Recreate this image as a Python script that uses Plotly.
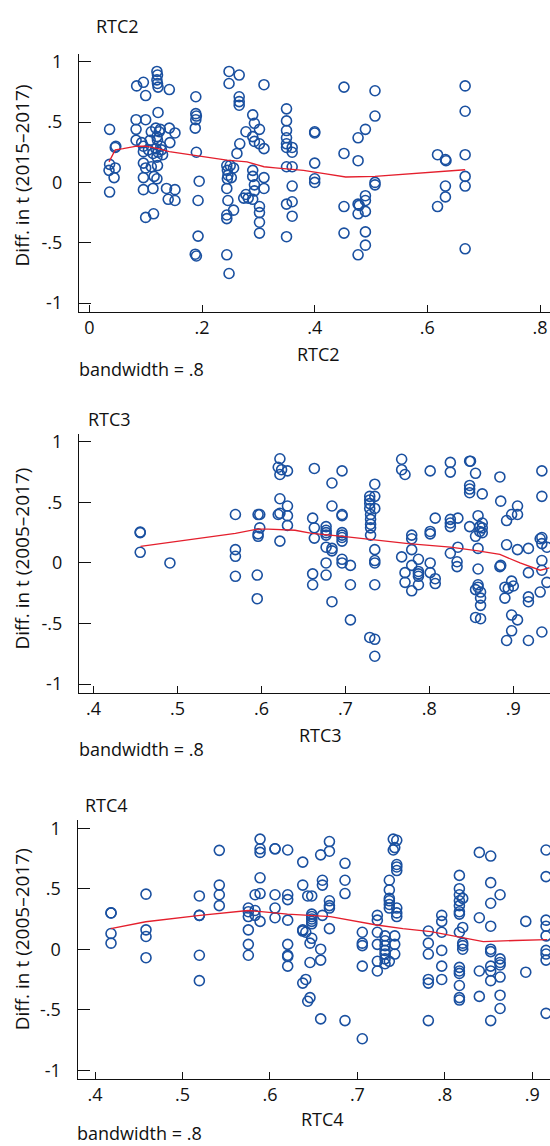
import plotly.graph_objects as go

# ---------------- data ----------------
# Panel 1: RTC2 vs Diff. in t (2015-2017)
rtc2_x = [0.036, 0.036, 0.035, 0.036, 0.046, 0.047, 0.046, 0.044,
          0.084, 0.096, 0.100, 0.083, 0.083, 0.083, 0.100, 0.093, 0.096, 0.096, 0.096, 0.100, 0.096, 0.096, 0.100, 0.114, 0.113, 0.115, 0.120,
          0.120, 0.121, 0.120, 0.121, 0.122, 0.122, 0.118, 0.124, 0.120, 0.121, 0.118, 0.122, 0.120, 0.121, 0.126, 0.127, 0.113, 0.110, 0.110,
          0.105, 0.108, 0.128, 0.130,
          0.142, 0.142, 0.152, 0.143, 0.137, 0.152, 0.140, 0.152,
          0.189, 0.189, 0.190, 0.189, 0.188, 0.190, 0.195, 0.193, 0.193, 0.188, 0.190,
          0.248, 0.248, 0.266, 0.266, 0.266, 0.266, 0.244, 0.245, 0.246, 0.245, 0.244, 0.246, 0.244, 0.244, 0.244, 0.248, 0.256, 0.256, 0.262, 0.250, 0.252,
          0.290, 0.293, 0.278, 0.290, 0.293, 0.302, 0.302, 0.310, 0.310, 0.267, 0.274, 0.290, 0.290, 0.293, 0.293, 0.290, 0.302, 0.302, 0.302, 0.302, 0.310, 0.310, 0.278, 0.282,
          0.350, 0.350, 0.350, 0.350, 0.350, 0.350, 0.360, 0.360, 0.350, 0.360, 0.360, 0.350, 0.360, 0.360, 0.350,
          0.400, 0.400, 0.400, 0.400, 0.400,
          0.452, 0.452, 0.452, 0.452,
          0.507, 0.507, 0.490, 0.477, 0.477, 0.507, 0.507, 0.477, 0.479, 0.490, 0.490, 0.477, 0.490, 0.490, 0.490, 0.477,
          0.618, 0.632, 0.633, 0.632, 0.632, 0.618,
          0.667, 0.667, 0.667, 0.667, 0.667, 0.667]
rtc2_y = [0.44, 0.15, 0.10, -0.08, 0.29, 0.30, 0.12, 0.04,
          0.80, 0.83, 0.72, 0.52, 0.44, 0.35, 0.52, 0.33, 0.30, 0.255, 0.16, 0.12, 0.04, -0.06, -0.29, -0.26, -0.05, 0.05, 0.03,
          0.92, 0.89, 0.85, 0.82, 0.79, 0.58, 0.45, 0.42, 0.38, 0.35, 0.28, 0.25, 0.21, 0.14, 0.44, 0.30, 0.24, 0.42, 0.13,
          0.27, 0.35, 0.27, 0.23,
          0.77, 0.45, 0.41, 0.33, -0.05, -0.06, -0.14, -0.15,
          0.71, 0.57, 0.55, 0.52, 0.45, 0.25, 0.01, -0.15, -0.445, -0.595, -0.61,
          0.92, 0.82, 0.89, 0.71, 0.67, 0.64, 0.14, 0.10, 0.06, 0.03, -0.05, -0.15, -0.27, -0.30, -0.60, -0.755, -0.23, 0.12, 0.24, 0.14, 0.04,
          0.56, 0.49, 0.42, 0.38, 0.34, 0.44, 0.32, 0.28, 0.81, 0.32, -0.13, 0.10, 0.05, -0.02, -0.07, -0.14, -0.20, -0.25, -0.33, -0.42, 0.04, -0.05, -0.10, -0.13,
          0.61, 0.51, 0.43, 0.37, 0.32, 0.29, 0.29, 0.25, 0.13, 0.13, -0.03, -0.18, -0.16, -0.28, -0.45,
          0.41, 0.42, 0.16, 0.03, 0.00,
          0.79, 0.24, -0.20, -0.42,
          0.76, 0.55, 0.44, 0.37, 0.18, -0.02, 0.00, -0.18, -0.19, -0.11, -0.15, -0.26, -0.24, -0.41, -0.52, -0.60,
          0.23, 0.19, 0.18, -0.03, -0.12, -0.20,
          0.80, 0.59, 0.23, 0.05, -0.03, -0.55]
rtc2_fit_x = [0.035, 0.046, 0.060, 0.084, 0.100, 0.122, 0.142, 0.170, 0.195, 0.220, 0.244, 0.280, 0.310, 0.330, 0.380, 0.420, 0.455, 0.507, 0.570, 0.632, 0.667]
rtc2_fit_y = [0.17, 0.27, 0.28, 0.30, 0.30, 0.28, 0.255, 0.235, 0.215, 0.20, 0.185, 0.17, 0.13, 0.12, 0.10, 0.07, 0.045, 0.05, 0.07, 0.095, 0.105]

# Panel 2: RTC3 vs Diff. in t (2005-2017)
rtc3_x = [0.4556, 0.4556, 0.4556, 0.491, 0.569, 0.569, 0.569, 0.569,
          0.596, 0.598, 0.598, 0.596, 0.596, 0.595, 0.595,
          0.622, 0.620, 0.624, 0.622, 0.631, 0.622, 0.631, 0.620, 0.622, 0.631, 0.631, 0.622,
          0.663, 0.661, 0.663, 0.663, 0.661, 0.661, 0.677, 0.677, 0.677, 0.677, 0.677, 0.677, 0.677,
          0.684, 0.684, 0.684, 0.684, 0.684, 0.696, 0.696, 0.696, 0.696, 0.696, 0.696, 0.696, 0.696, 0.696, 0.706, 0.706, 0.706,
          0.729, 0.729, 0.729, 0.729, 0.730, 0.730, 0.730, 0.730, 0.730, 0.735, 0.735, 0.735, 0.735, 0.735, 0.735, 0.735, 0.729, 0.735, 0.735,
          0.767, 0.767, 0.771, 0.767, 0.779, 0.779, 0.779, 0.771, 0.771, 0.779, 0.779, 0.787, 0.787, 0.787, 0.787, 0.787,
          0.801, 0.801, 0.801, 0.801, 0.801, 0.807, 0.807, 0.807,
          0.825, 0.825, 0.825, 0.825, 0.825, 0.825, 0.834, 0.834, 0.833, 0.833,
          0.848, 0.849, 0.848, 0.848, 0.848, 0.855, 0.848, 0.855, 0.858, 0.860, 0.860, 0.858, 0.858, 0.855, 0.858, 0.858, 0.861, 0.861, 0.861, 0.855, 0.861,
          0.863, 0.863, 0.863, 0.863,
          0.884, 0.885, 0.884, 0.885,
          0.892, 0.898, 0.905, 0.905, 0.892, 0.905, 0.890, 0.894, 0.898, 0.900, 0.890, 0.898, 0.905, 0.898, 0.892,
          0.918, 0.918, 0.918, 0.918, 0.918,
          0.934, 0.934, 0.932, 0.934, 0.934, 0.934, 0.934, 0.932, 0.934, 0.940, 0.940]
rtc3_y = [0.25, 0.255, 0.088, 0.00, 0.40, 0.11, 0.055, -0.11,
          0.40, 0.40, 0.29, 0.24, 0.22, -0.10, -0.295,
          0.86, 0.79, 0.77, 0.73, 0.76, 0.53, 0.47, 0.40, 0.41, 0.39, 0.31, 0.18,
          0.78, 0.37, 0.29, 0.205, -0.09, -0.18, 0.30, 0.27, 0.25, 0.23, 0.13, 0.00, -0.10,
          0.66, 0.47, 0.12, 0.10, -0.32, 0.76, 0.40, 0.39, 0.25, 0.23, 0.21, 0.18, 0.03, 0.00, -0.02, -0.18, -0.47,
          0.55, 0.52, 0.49, 0.45, 0.40, 0.36, 0.32, 0.29, 0.23, 0.65, 0.55, 0.45, 0.11, 0.02, 0.00, -0.18, -0.615, -0.63, -0.77,
          0.856, 0.77, 0.73, 0.05, 0.23, 0.20, 0.11, -0.08, -0.16, -0.02, -0.23, 0.03, -0.07, -0.09, -0.11, -0.18,
          0.76, 0.26, 0.24, 0.00, -0.08, 0.37, -0.13, -0.17,
          0.83, 0.75, 0.36, 0.33, 0.30, 0.08, 0.37, 0.13, 0.01, -0.03,
          0.84, 0.84, 0.64, 0.61, 0.58, 0.74, 0.30, 0.22, 0.39, 0.30, 0.26, 0.12, -0.05, -0.22, -0.18, -0.20, -0.24, -0.29, -0.35, -0.45, -0.46,
          0.57, 0.33, 0.29, 0.25,
          0.71, 0.51, -0.03, -0.02,
          0.35, 0.40, 0.47, 0.40, 0.15, 0.11, -0.20, -0.21, -0.15, -0.19, -0.29, -0.43, -0.47, -0.56, -0.64,
          0.12, -0.08, -0.28, -0.32, -0.64,
          0.76, 0.55, 0.20, 0.21, 0.16, 0.02, -0.06, -0.24, -0.57, 0.13, -0.16]
rtc3_fit_x = [0.456, 0.500, 0.569, 0.596, 0.608, 0.640, 0.660, 0.697, 0.735, 0.775, 0.825, 0.858, 0.884, 0.908, 0.932, 0.943]
rtc3_fit_y = [0.137, 0.18, 0.245, 0.28, 0.28, 0.27, 0.245, 0.22, 0.19, 0.16, 0.13, 0.10, 0.07, 0.00, -0.06, -0.04]

# Panel 3: RTC4 vs Diff. in t (2005-2017)
rtc4_x = [0.4183, 0.4183, 0.4183, 0.4183,
          0.4583, 0.4583, 0.4583, 0.4583,
          0.5193, 0.5193, 0.5193, 0.5193, 0.5193,
          0.5421, 0.5421, 0.5421, 0.5421,
          0.5753, 0.5753, 0.5753, 0.5753, 0.5753, 0.5753,
          0.583, 0.583, 0.583,
          0.5887, 0.5887, 0.5887, 0.5887, 0.5887, 0.5887,
          0.6058, 0.6058, 0.6058, 0.6058, 0.6058,
          0.6203, 0.6203, 0.6203, 0.6203, 0.6203, 0.6203, 0.6203, 0.6203,
          0.6375, 0.6375, 0.6375, 0.6375, 0.6375,
          0.6432, 0.6432,
          0.6478, 0.6478, 0.6478, 0.6478, 0.6478, 0.6478, 0.6478,
          0.6458, 0.6458, 0.6458, 0.6410, 0.6410,
          0.658, 0.658, 0.658, 0.658, 0.660, 0.660, 0.660,
          0.668, 0.668, 0.668, 0.668, 0.668, 0.668,
          0.6858, 0.6858, 0.6858, 0.6858,
          0.7056, 0.7056, 0.7056, 0.7056, 0.7056,
          0.7228, 0.7228, 0.7228, 0.7228, 0.7228, 0.7228,
          0.7316, 0.7316, 0.7316, 0.7316, 0.7316, 0.7316, 0.7316,
          0.7365, 0.7365, 0.7365, 0.7365, 0.7365, 0.7365, 0.7365,
          0.741, 0.741, 0.7427, 0.7427, 0.7427, 0.7427,
          0.745, 0.745, 0.745, 0.745, 0.745, 0.745, 0.745,
          0.7811, 0.7811, 0.7811, 0.7811, 0.7811, 0.7811,
          0.7964, 0.7964, 0.7964, 0.7964, 0.7964, 0.7964,
          0.8166, 0.8166, 0.8166, 0.8166, 0.8166, 0.8166, 0.8166, 0.8166, 0.8166, 0.8166, 0.8166, 0.8166, 0.8166, 0.8166,
          0.8204, 0.8204, 0.8204, 0.8204, 0.8204,
          0.8394, 0.8394, 0.8394, 0.8394,
          0.8524, 0.8524, 0.8524, 0.8524, 0.8524, 0.8524, 0.8524, 0.8524, 0.8524, 0.8524,
          0.8631, 0.8631, 0.8631, 0.8631, 0.8631, 0.8631, 0.8631,
          0.8925, 0.8925,
          0.9157, 0.9157, 0.9157, 0.9157, 0.9157, 0.9157, 0.9157, 0.9157, 0.9157]
rtc4_y = [0.30, 0.30, 0.13, 0.05,
          0.455, 0.16, 0.105, -0.07,
          0.44, 0.28, 0.28, -0.05, -0.26,
          0.817, 0.53, 0.45, 0.36,
          0.34, 0.31, 0.27, 0.16, 0.04, -0.05,
          0.45, 0.32, 0.28,
          0.91, 0.83, 0.80, 0.59, 0.46, 0.23,
          0.83, 0.83, 0.45, 0.34, 0.26,
          0.82, 0.45, 0.41, 0.24, 0.04, -0.05, -0.06, -0.14,
          0.72, 0.53, 0.16, 0.15, -0.28,
          -0.43, 0.44,
          0.44, 0.29, 0.27, 0.25, 0.23, 0.21, 0.09,
          0.05, -0.11, -0.40, 0.14, -0.25,
          0.78, 0.00, -0.09, -0.576, 0.57, 0.53, 0.28,
          0.89, 0.81, 0.40, 0.36, 0.34, 0.17,
          0.71, 0.57, 0.46, -0.59,
          0.14, 0.05, 0.03, -0.14, -0.74,
          0.28, 0.24, 0.14, 0.04, -0.10, -0.18,
          0.11, 0.07, 0.03, -0.01, -0.04, -0.08, -0.12,
          0.57, 0.49, 0.42, 0.40, 0.37, 0.34, -0.10,
          0.91, 0.82, 0.84, 0.11, 0.04, -0.04,
          0.90, 0.70, 0.68, 0.65, 0.34, 0.30, 0.27,
          0.15, 0.05, -0.04, -0.25, -0.28, -0.59,
          0.28, 0.23, 0.14, -0.01, -0.14, -0.25,
          0.61, 0.50, 0.45, 0.40, 0.36, 0.31, 0.29, 0.14, -0.15, -0.18, -0.20, -0.30, -0.40, -0.42,
          0.42, 0.18, 0.05, 0.03, 0.00,
          0.80, 0.26, -0.18, -0.39,
          0.77, 0.55, 0.38, 0.19, 0.00, -0.02, -0.14, -0.18, -0.26, -0.59,
          0.45, -0.08, -0.11, -0.13, -0.23, -0.38, -0.49,
          0.23, -0.19,
          0.82, 0.60, 0.24, 0.19, 0.11, -0.01, -0.04, -0.09, -0.53]
rtc4_fit_x = [0.418, 0.458, 0.520, 0.575, 0.590, 0.620, 0.645, 0.669, 0.722, 0.752, 0.784, 0.823, 0.844, 0.880, 0.917]
rtc4_fit_y = [0.17, 0.227, 0.28, 0.32, 0.31, 0.29, 0.28, 0.27, 0.20, 0.17, 0.145, 0.09, 0.063, 0.072, 0.08]

y_tickvals = [-1, -0.5, 0, 0.5, 1]
y_ticktext = ["-1", "-.5", "0", ".5", "1"]
x1_tickvals = [0, 0.2, 0.4, 0.6, 0.8]
x1_ticktext = ["0", ".2", ".4", ".6", ".8"]
x23_tickvals = [0.4, 0.5, 0.6, 0.7, 0.8, 0.9]
x23_ticktext = [".4", ".5", ".6", ".7", ".8", ".9"]

panel_titles = ["RTC2", "RTC3", "RTC4"]
y_titles = ["Diff. in t (2015–2017)", "Diff. in t (2005–2017)", "Diff. in t (2005–2017)"]
note_text = "bandwidth = .8"

# ---------------- styling / layout ----------------
W, H = 550, 1146
FONT = "Open Sans, Roboto, Liberation Sans, sans-serif"
FS = 18
MARKER_COLOR = "#1a50a0"
LINE_COLOR = "#e41f2d"

def px_x(p):
    return p / W

def px_y(p):
    return 1 - p / H

fig = go.Figure()

panels = [
    (rtc2_x, rtc2_y, rtc2_fit_x, rtc2_fit_y, "x", "y"),
    (rtc3_x, rtc3_y, rtc3_fit_x, rtc3_fit_y, "x2", "y2"),
    (rtc4_x, rtc4_y, rtc4_fit_x, rtc4_fit_y, "x3", "y3"),
]
for sx, sy, fx, fy, xa, ya in panels:
    fig.add_trace(go.Scatter(
        x=sx, y=sy, mode="markers", xaxis=xa, yaxis=ya, showlegend=False,
        marker=dict(symbol="circle-open", size=10, color=MARKER_COLOR,
                    line=dict(width=1.6, color=MARKER_COLOR)),
        cliponaxis=False))
    fig.add_trace(go.Scatter(
        x=fx, y=fy, mode="lines", xaxis=xa, yaxis=ya, showlegend=False,
        line=dict(color=LINE_COLOR, width=1.3)))

# axis geometry (pixel positions of the axis lines)
geo = [
    # (y-axis px, x-axis-line py, top py, xrange, yrange)
    (79.0, 309.0, 49.0, [-0.0183, 0.8176], [-1.075, 1.067]),
    (79.0, 692.3, 431.7, [0.3827, 0.9437], [-1.074, 1.064]),
    (77.7, 1081.0, 820.0, [0.3802, 0.9202], [-1.076, 1.068]),
]

axis_common = dict(showgrid=False, zeroline=False, showline=True, linecolor="#111",
                   linewidth=1.4, ticks="inside", tickcolor="#111", tickwidth=1.3,
                   tickfont=dict(family=FONT, size=FS, color="#111"), mirror=False)

layout = dict(width=W, height=H, margin=dict(l=0, r=0, t=0, b=0),
              paper_bgcolor="white", plot_bgcolor="white",
              font=dict(family=FONT, size=FS, color="#111"), showlegend=False)

for i, (ax_px, bot_py, top_py, xr, yr) in enumerate(geo):
    sfx = "" if i == 0 else str(i + 1)
    xv = x1_tickvals if i == 0 else x23_tickvals
    xt = x1_ticktext if i == 0 else x23_ticktext
    layout["xaxis" + sfx] = dict(axis_common, domain=[px_x(ax_px), 1.0], range=xr,
                                 anchor="y" + sfx, tickvals=xv, ticktext=xt,
                                 ticklen=7, ticklabelstandoff=-1)
    layout["yaxis" + sfx] = dict(axis_common, domain=[px_y(bot_py), px_y(top_py)], range=yr,
                                 anchor="x" + sfx, tickvals=y_tickvals, ticktext=y_ticktext,
                                 ticklen=12, ticklabelstandoff=12)

fig.update_layout(**layout)

# annotations: titles, axis titles, notes
title_pos = [(94, 21.5), (86, 417), (83, 805)]
xtitle_pos = [(318, 351), (320, 734), (322, 1121)]
ytitle_pos = [(22, 171.5), (22, 557), (22, 940)]
note_pos = [(77, 366.5), (77, 749), (75, 1135)]

for i in range(3):
    fig.add_annotation(text=panel_titles[i], x=px_x(title_pos[i][0]), y=px_y(title_pos[i][1]),
                       xref="paper", yref="paper", xanchor="left", yanchor="middle",
                       showarrow=False, font=dict(family=FONT, size=FS, color="#111"))
    fig.add_annotation(text=panel_titles[i], x=px_x(xtitle_pos[i][0]), y=px_y(xtitle_pos[i][1]),
                       xref="paper", yref="paper", xanchor="center", yanchor="middle",
                       showarrow=False, font=dict(family=FONT, size=FS, color="#111"))
    fig.add_annotation(text=y_titles[i], x=px_x(ytitle_pos[i][0]), y=px_y(ytitle_pos[i][1]),
                       xref="paper", yref="paper", xanchor="center", yanchor="middle",
                       textangle=-90, showarrow=False, font=dict(family=FONT, size=19, color="#111"))
    fig.add_annotation(text=note_text, x=px_x(note_pos[i][0]), y=px_y(note_pos[i][1]),
                       xref="paper", yref="paper", xanchor="left", yanchor="middle",
                       showarrow=False, font=dict(family=FONT, size=FS, color="#111"))

fig.write_html("out.html")
